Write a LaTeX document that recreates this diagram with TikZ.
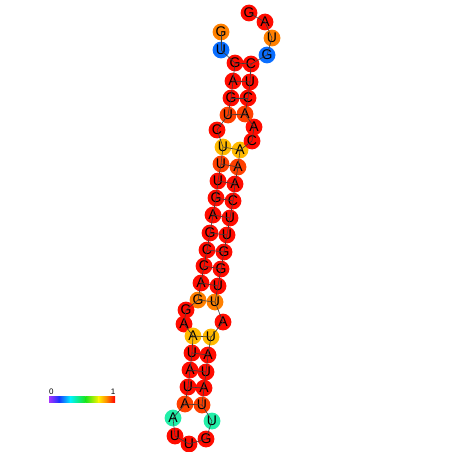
\documentclass[tikz,border=0pt]{standalone}
\usepackage{fontspec}
\setmainfont{Liberation Sans}
\pgfdeclarelayer{bg}
\pgfsetlayers{bg,main}
\definecolor{cred}{RGB}{255,12,0}
\definecolor{cored}{RGB}{255,64,0}
\definecolor{corange}{RGB}{255,128,0}
\definecolor{camber}{RGB}{255,185,0}
\definecolor{cblue}{RGB}{10,110,255}
\definecolor{cteal}{RGB}{34,238,168}
\definecolor{linec}{RGB}{60,60,60}
\definecolor{s0}{rgb}{0.65,0.2,1}
\definecolor{s1}{rgb}{0.1,0.2,1}
\definecolor{s2}{rgb}{0,0.95,1}
\definecolor{s3}{rgb}{0.1,0.9,0.1}
\definecolor{s4}{rgb}{1,0.95,0}
\definecolor{s5}{rgb}{1,0.5,0}
\definecolor{s6}{rgb}{1,0,0}
\newcommand\nt[5]{%
  \node[base] (#1) at (#2,#3) {#4};
  \begin{pgfonlayer}{bg}\fill[#5] (#1.center) circle (8.4);\end{pgfonlayer}}
\tikzset{
  base/.style={inner sep=0pt, minimum size=16pt, circle, font=\fontsize{14}{14}\selectfont},
  bb/.style={draw=linec, line width=0.6pt},
  bp/.style={draw=linec, line width=0.6pt},
  lbl/.style={inner sep=0pt, font=\fontsize{8}{8}\selectfont}
}
\begin{document}
\begin{tikzpicture}[x=1pt,y=-1pt]
\begin{pgfonlayer}{bg}
\fill[white] (0,0) rectangle (452,452);
\end{pgfonlayer}
\useasboundingbox (0,0) rectangle (452,452);
\nt{n1}{221}{32}{G}{corange}
\nt{n2}{221}{50}{U}{cblue}
\nt{n3}{235}{63}{G}{cred}
\nt{n4}{233}{81}{A}{cred}
\nt{n5}{231}{98}{G}{cred}
\nt{n6}{228}{115}{U}{cored}
\nt{n7}{217}{130}{C}{cred}
\nt{n8}{223}{147}{U}{camber}
\nt{n9}{221}{164}{U}{cored}
\nt{n10}{218}{181}{U}{cred}
\nt{n11}{216}{198}{G}{cred}
\nt{n12}{213}{215}{A}{cred}
\nt{n13}{210}{233}{G}{cred}
\nt{n14}{207}{250}{C}{cred}
\nt{n15}{204}{266}{C}{cred}
\nt{n16}{201}{283}{A}{cred}
\nt{n17}{198}{300}{G}{corange}
\nt{n18}{186}{310}{G}{cred}
\nt{n19}{184}{324}{A}{cred}
\nt{n20}{193}{336}{A}{camber}
\nt{n21}{192}{353}{U}{cred}
\nt{n22}{190}{370}{A}{cred}
\nt{n23}{188}{387}{U}{cred}
\nt{n24}{185}{404}{A}{cored}
\nt{n25}{173}{418}{A}{cteal}
\nt{n26}{175}{436}{U}{cred}
\nt{n27}{189}{444}{U}{cred}
\nt{n28}{206}{439}{G}{cred}
\nt{n29}{212}{421}{U}{cteal}
\nt{n30}{202}{405}{U}{cored}
\nt{n31}{204}{388}{A}{cred}
\nt{n32}{206}{372}{U}{cred}
\nt{n33}{208}{355}{A}{cred}
\nt{n34}{211}{337}{U}{camber}
\nt{n35}{223}{322}{A}{cred}
\nt{n36}{215}{302}{U}{corange}
\nt{n37}{218}{286}{U}{cred}
\nt{n38}{221}{269}{G}{cred}
\nt{n39}{224}{252}{G}{cred}
\nt{n40}{227}{235}{U}{cred}
\nt{n41}{230}{218}{U}{cred}
\nt{n42}{233}{201}{C}{cred}
\nt{n43}{235}{184}{A}{cred}
\nt{n44}{238}{167}{A}{cored}
\nt{n45}{240}{150}{A}{camber}
\nt{n46}{252}{141}{C}{cred}
\nt{n47}{254}{127}{A}{cred}
\nt{n48}{245}{114}{A}{cored}
\nt{n49}{248}{98}{C}{cred}
\nt{n50}{250}{82}{U}{cred}
\nt{n51}{251}{64}{C}{cred}
\nt{n52}{267}{55}{G}{cblue}
\nt{n53}{272}{38}{U}{corange}
\nt{n54}{265}{22}{A}{cred}
\nt{n55}{249}{13}{G}{cred}
% backbone
\foreach \i [evaluate=\i as \j using int(\i+1)] in {1,...,54}
  \draw[bb] (n\i.center) -- (n\j.center);
% base pairs
\foreach \a/\b in {3/51,4/50,5/49,6/48,8/45,9/44,10/43,11/42,12/41,13/40,14/39,15/38,16/37,17/36,20/34,21/33,22/32,23/31,24/30}
  \draw[bp] (n\a.center) -- (n\b.center);
% colour bar
\node[inner sep=0pt, minimum width=66pt, minimum height=6pt, anchor=north west] (bar) at (49,396) {};
\foreach \xa/\xb/\ca/\cb in {49/59.2/s0/s1, 58.9/70.4/s1/s2, 70.1/85.6/s2/s3, 85.3/98.8/s3/s4, 98.5/107.4/s4/s5, 107.1/115/s5/s6}
  \shade[left color=\ca, right color=\cb] (\xa,396) rectangle (\xb,402);
\node[lbl, anchor=south west] (l0) at ([yshift=1pt]bar.north west) {0};
\node[lbl, anchor=south east] (l1) at ([yshift=1pt]bar.north east) {1};
\end{tikzpicture}
\end{document}
